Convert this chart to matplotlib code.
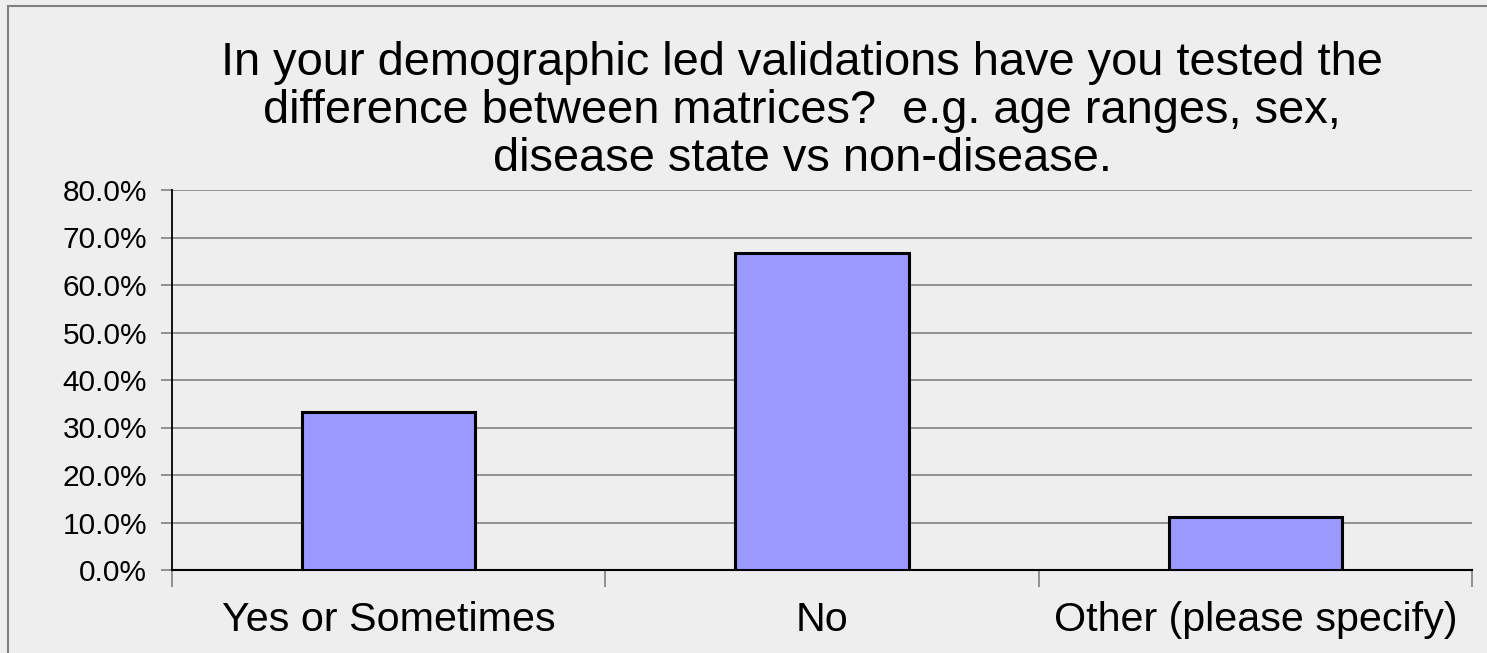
import matplotlib.pyplot as plt
from matplotlib.patches import Rectangle
from matplotlib.ticker import FuncFormatter, FixedLocator

plt.rcParams['font.family'] = ['Liberation Sans', 'DejaVu Sans']

categories = ['Yes or Sometimes', 'No', 'Other (please specify)']
shares = [33.3, 66.7, 11.1]
title = ('In your demographic led validations have you tested the\n'
         'difference between matrices?  e.g. age ranges, sex,\n'
         'disease state vs non-disease.')

bg = '#eeeeee'
fig = plt.figure(figsize=(14.87, 6.53), dpi=100, facecolor=bg)
fig.patches.append(Rectangle((8 / 1487, -0.1), 1.2, 1 - 6 / 653 + 0.1,
                             transform=fig.transFigure, fill=False,
                             edgecolor='#7f7f7f', linewidth=1.5))

ax = fig.add_axes([172 / 1487, 83 / 653, 1300 / 1487, 380 / 653])
ax.set_facecolor(bg)

x = range(len(categories))
ax.bar(x, shares, width=0.4, color='#9999ff', edgecolor='black',
       linewidth=2.2, zorder=3)

ax.set_xlim(-0.5, len(categories) - 0.5)
ax.set_ylim(0, 80)
ax.set_yticks(range(0, 81, 10))
ax.yaxis.set_major_formatter(FuncFormatter(lambda v, _: f'{v:.1f}%'))
ax.grid(axis='y', color='#808080', linewidth=1.2, zorder=0)

# category labels centred, tick marks on the category boundaries
ax.set_xticks(list(x))
ax.set_xticklabels(categories, fontsize=29.7)
ax.tick_params(axis='x', length=0, pad=22)
ax.xaxis.set_minor_locator(FixedLocator([-0.5, 0.5, 1.5, 2.5]))
ax.tick_params(axis='x', which='minor', length=12, color='#808080', width=1.2)
ax.tick_params(axis='y', labelsize=21.5, length=8, color='#808080', width=1.2, pad=10)

for side in ['top', 'right']:
    ax.spines[side].set_visible(False)
ax.spines['left'].set_linewidth(1.3)
ax.spines['bottom'].set_linewidth(1.5)

fig.text(0.5395, 1 - 111 / 653, title, ha='center', va='center', fontsize=33.8,
         linespacing=1.11)

fig.savefig('out.png', dpi=100, facecolor=bg)
